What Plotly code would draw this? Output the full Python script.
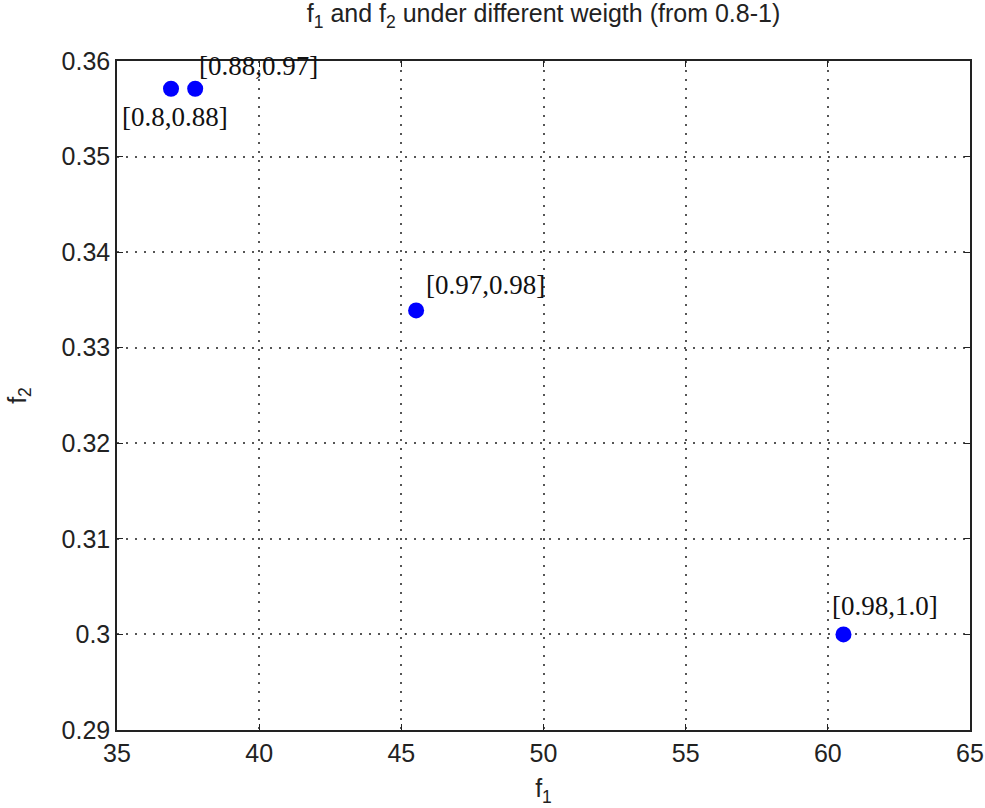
import plotly.graph_objects as go

f1 = [36.9, 37.75, 45.52, 60.55]
f2 = [0.3571, 0.3571, 0.3339, 0.3000]
labels = ["[0.8,0.88]", "[0.88,0.97]", "[0.97,0.98]", "[0.98,1.0]"]

x_ticks = [35, 40, 45, 50, 55, 60, 65]
y_ticks = [0.29, 0.30, 0.31, 0.32, 0.33, 0.34, 0.35, 0.36]
y_ticktext = ["0.29", "0.3", "0.31", "0.32", "0.33", "0.34", "0.35", "0.36"]

# label placement offsets (pixels) relative to each point
offsets = [
    dict(xanchor="center", yanchor="middle", xshift=4, yshift=-28),
    dict(xanchor="left", yanchor="middle", xshift=2, yshift=23),
    dict(xanchor="left", yanchor="middle", xshift=8, yshift=25),
    dict(xanchor="left", yanchor="middle", xshift=-13, yshift=28),
]

SANS = "Liberation Sans"
TXT = "#222222"

fig = go.Figure()
fig.add_trace(go.Scatter(
    x=f1, y=f2, mode="markers",
    marker=dict(color="#0000ff", size=16, line=dict(width=0)),
    showlegend=False,
))

for x, y, t, o in zip(f1, f2, labels, offsets):
    fig.add_annotation(x=x, y=y, xref="x", yref="y", text=t, showarrow=False,
                       font=dict(family="Liberation Serif", size=27, color="#111111"),
                       **o)

axis_common = dict(
    showline=True, linecolor="#222222", linewidth=1.5, mirror="ticks",
    ticks="inside", ticklen=6, tickcolor="#222222",
    showgrid=True, gridcolor="#555555", griddash="2px,7px", gridwidth=2,
    zeroline=False,
    tickfont=dict(family=SANS, size=25, color=TXT),
)

fig.update_layout(
    width=985, height=808,
    margin=dict(l=117, r=15, t=61, b=78, autoexpand=False),
    paper_bgcolor="white", plot_bgcolor="white",
    title=dict(text="f<sub>1</sub> and f<sub>2</sub> under different weigth (from 0.8-1)",
               x=0.5, xref="paper", xanchor="center",
               y=0.994, yref="container", yanchor="top",
               font=dict(family=SANS, size=25, color=TXT)),
    xaxis=dict(range=[35, 65], tickvals=x_ticks,
               title=dict(text="f<sub>1</sub>", standoff=14,
                          font=dict(family=SANS, size=25, color=TXT)),
               **axis_common),
    yaxis=dict(range=[0.29, 0.36], tickvals=y_ticks, ticktext=y_ticktext,
               title=dict(text="f<sub>2</sub>", standoff=28,
                          font=dict(family=SANS, size=25, color=TXT)),
               **axis_common),
)

fig.write_html("out.html", config={"displayModeBar": False},
               post_script="document.body.style.margin='0';")
